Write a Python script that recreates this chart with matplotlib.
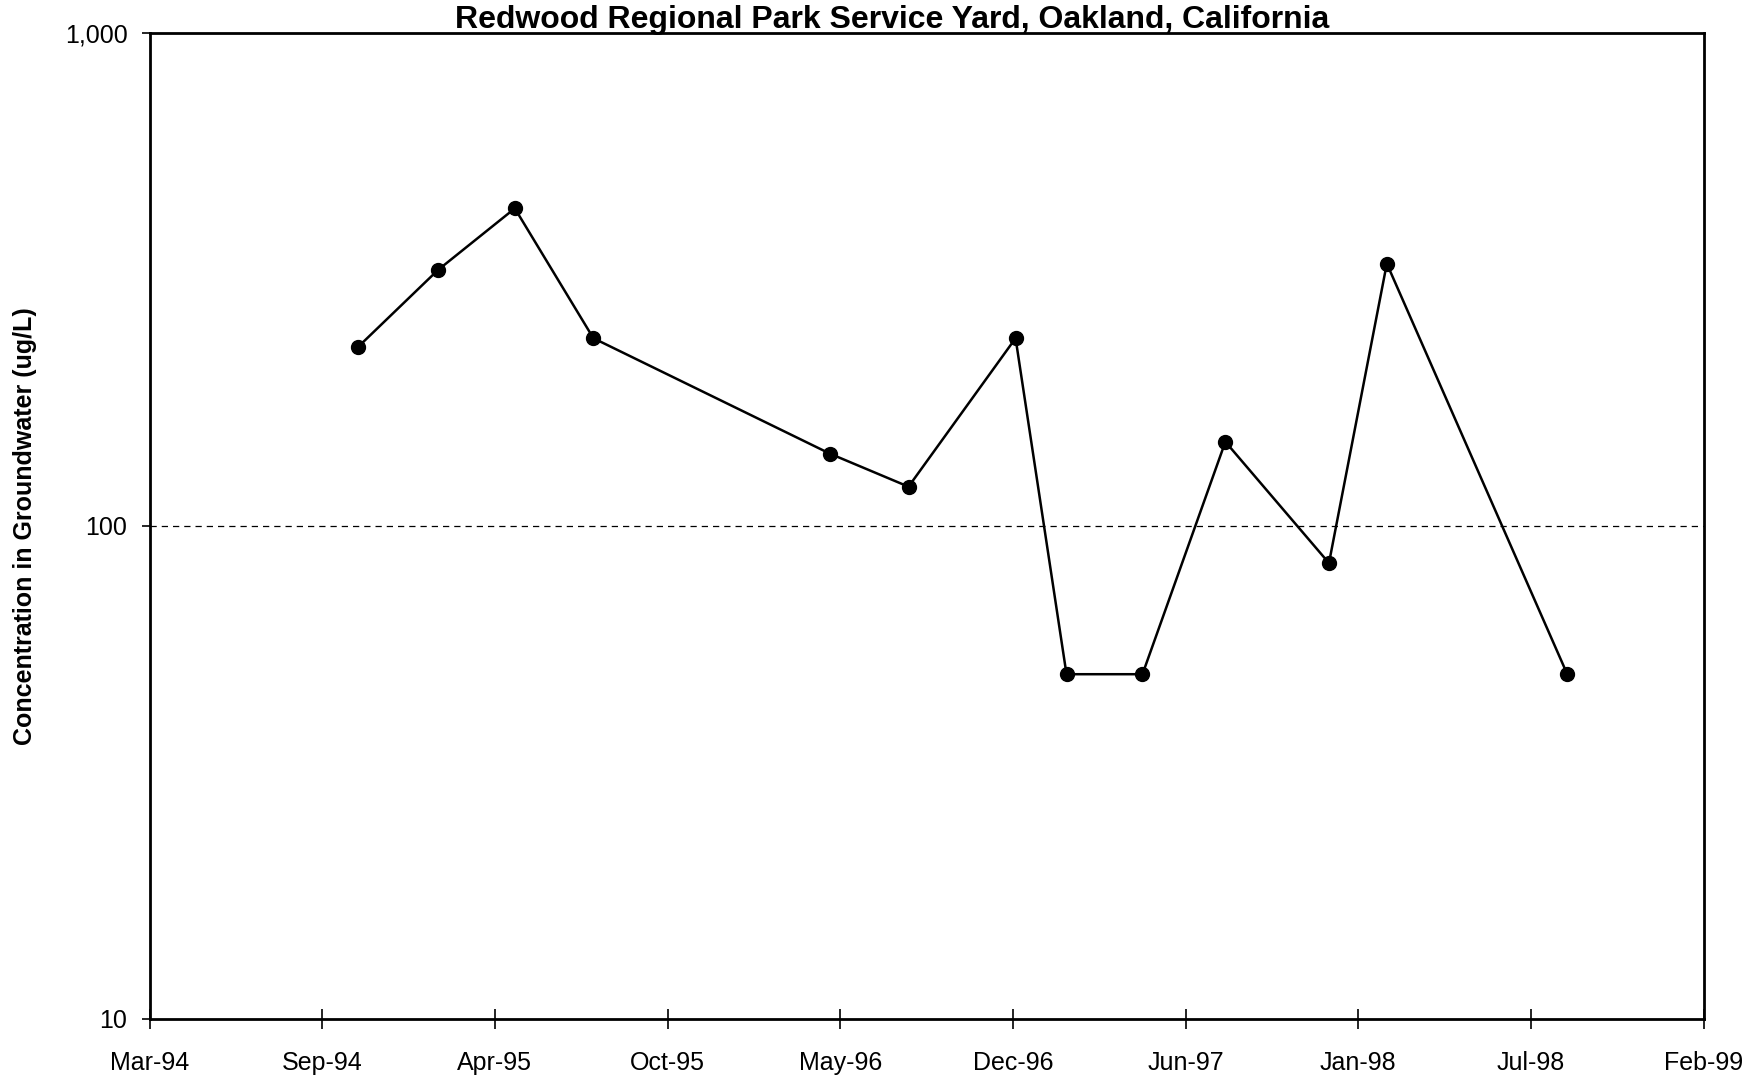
import matplotlib
matplotlib.use("Agg")
import matplotlib.pyplot as plt
import matplotlib.dates as mdates
from matplotlib.ticker import FixedLocator, FixedFormatter
import datetime as dt

# ---- data ----
sample_dates = ["1994-11-03", "1995-02-04", "1995-05-04", "1995-08-03",
                "1996-05-03", "1996-08-02", "1996-12-04", "1997-02-01",
                "1997-04-30", "1997-08-04", "1997-12-02", "1998-02-07",
                "1998-09-04"]
concentration = [230, 330, 440, 240, 140, 120, 240, 50, 50, 148, 84, 340, 50]

tick_labels = ["Mar-94", "Sep-94", "Apr-95", "Oct-95", "May-96", "Dec-96",
               "Jun-97", "Jan-98", "Jul-98", "Feb-99"]
axis_start = "1994-03-07"
tick_step_days = 200
y_ticks = [10, 100, 1000]
y_tick_labels = ["10", "100", "1,000"]
reference_level = 100
title = "Redwood Regional Park Service Yard, Oakland, California"
ylabel = "Concentration in Groundwater (ug/L)"

# ---- plot ----
plt.rcParams['font.family'] = ['Liberation Sans', 'DejaVu Sans']
fig = plt.figure(figsize=(17.6, 10.84), dpi=100)
ax = fig.add_axes([0.085, 0.060, 0.883, 0.910])

x = [dt.datetime.strptime(d, "%Y-%m-%d") for d in sample_dates]
start = dt.datetime.strptime(axis_start, "%Y-%m-%d")
ticks = [start + dt.timedelta(days=tick_step_days * i) for i in range(len(tick_labels))]

ax.axhline(reference_level, color='black', lw=0.9, ls=(0, (5, 4)))
ax.plot(x, concentration, color='black', lw=1.8, marker='o', markersize=10,
        markerfacecolor='black', markeredgecolor='black')

ax.set_yscale('log')
ax.set_ylim(10, 1000)
ax.yaxis.set_major_locator(FixedLocator(y_ticks))
ax.yaxis.set_major_formatter(FixedFormatter(y_tick_labels))
ax.yaxis.set_minor_locator(FixedLocator([]))

ax.set_xlim(mdates.date2num(ticks[0]), mdates.date2num(ticks[-1]))
ax.set_xticks([mdates.date2num(t) for t in ticks])
ax.set_xticklabels(tick_labels)

ax.tick_params(axis='x', direction='inout', length=14, width=1.2, pad=16, labelsize=18)
ax.tick_params(axis='y', direction='out', length=6, width=1.2, pad=10, labelsize=18)
for s in ax.spines.values():
    s.set_linewidth(2)

ax.set_ylabel(ylabel, fontsize=18, fontweight='bold', labelpad=20)
fig.text(0.507, 0.982, title, ha='center', va='center', fontsize=23,
         fontweight='bold')

fig.savefig("out.png", dpi=100)
